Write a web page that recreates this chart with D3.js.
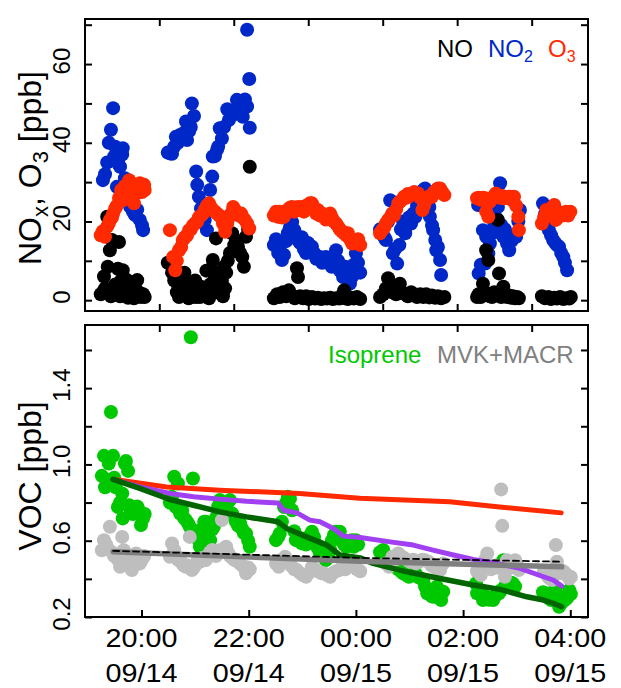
<!DOCTYPE html>
<html>
<head>
<meta charset="utf-8">
<script src="https://cdn.jsdelivr.net/npm/d3@7"></script>
<style>
  body { margin: 0; background: #fff; }
  svg { display: block; }
  text { font-family: "Liberation Sans", Arial, Helvetica, sans-serif; }
</style>
</head>
<body>
<svg id="chart" width="621" height="688"></svg>
<script>
// ---- time axis (decimal hours since 00:00 on 09/14) ----
const hourTicks = [20, 22, 24, 26, 28];
const hourTickTime = ["20:00", "22:00", "00:00", "02:00", "04:00"];
const hourTickDate = ["09/14", "09/14", "09/15", "09/15", "09/15"];
const upperTickHours = [20.332, 21.721, 23.111, 24.500, 25.889, 27.279];

// ---- NOx / O3 panel ----
const noxTicks = [0, 10, 20, 30, 40, 50, 60, 70];
const noxLabels = [0, 20, 40, 60];

// NO2 [hour, ppb]
const no2 = [
  [19.28,30.5],[19.32,32],[19.36,35],[19.39,40],[19.43,43.3],[19.47,48.8],[19.49,36.5],[19.51,39],[19.54,28.8],[19.56,34.8],[19.60,33.9],[19.64,37],[19.65,38.6],[19.69,31],[19.73,27],[19.77,25],[19.79,23.7],[19.84,22.5],[19.88,21.6],[19.92,23],[19.97,20.4],[20.01,19],[20.03,17.8],
  [20.49,37.5],[20.53,37.3],[20.57,37.2],[20.61,39],[20.64,41.5],[20.68,40],[20.72,42],[20.76,41],[20.79,42.5],[20.83,45.4],[20.85,40.7],[20.89,43],[20.92,44],[20.94,50],[20.98,46.8],[21.02,32.7],[21.04,29.3],[21.07,26.3],[21.11,23.3],[21.15,21],[21.18,20.4],[21.22,17.8],[21.24,24],[21.28,28],[21.32,31.4],[21.33,36.5],[21.37,36.6],[21.41,38.2],[21.43,39],[21.46,43.7],[21.50,41.1],[21.54,44],[21.60,48.5],[21.63,45.8],[21.69,47],[21.74,48],[21.78,50.9],[21.84,48],[21.89,46.6],[21.93,51],[21.97,49.2],[21.97,68.7],[22.01,56.2],[22.02,43.8],
  [22.47,14],[22.51,15.5],[22.55,12],[22.58,13.6],[22.62,10.2],[22.66,11.5],[22.70,15],[22.73,17],[22.77,18.5],[22.81,19.8],[22.85,17.8],[22.88,16.5],[22.92,15.3],[22.96,14.5],[22.99,16],[23.03,13],[23.07,12],[23.11,14.5],[23.14,13],[23.18,13.6],[23.22,12],[23.26,10.5],[23.29,11],[23.33,11],[23.37,9.5],[23.40,10.5],[23.44,11],[23.48,9.5],[23.52,10.2],[23.55,8.5],[23.59,11],[23.63,12.7],[23.67,10],[23.70,7.5],[23.74,8.5],[23.76,5.9],[23.80,8.5],[23.84,7],[23.87,5.5],[23.89,4.2],[23.93,6],[23.96,9],[24.00,11.9],[24.04,9.5],[24.08,7],
  [24.45,18],[24.49,17],[24.53,16],[24.56,15.3],[24.60,20],[24.64,25.4],[24.68,22],[24.69,11.9],[24.73,13],[24.77,9.3],[24.81,14],[24.84,18],[24.88,20],[24.92,17],[24.96,19.5],[24.99,21],[25.03,19.5],[25.07,22],[25.11,21.2],[25.14,24],[25.18,26],[25.22,27.5],[25.26,28],[25.29,28.4],[25.33,25],[25.37,23.7],[25.38,21.2],[25.42,19],[25.44,17.8],[25.48,15.3],[25.50,12.7],[25.53,13.5],[25.57,10.2],[25.59,6.4],
  [26.28,24.2],[26.29,6.8],[26.33,9],[26.37,17.8],[26.41,9.3],[26.43,16.1],[26.47,11.9],[26.50,14.4],[26.54,17],[26.58,19],[26.61,21],[26.65,23.7],[26.69,29.7],[26.71,19.1],[26.75,16.1],[26.78,18],[26.82,14.4],[26.86,12.7],[26.90,15],[26.93,16.1],[26.99,16.1],[27.03,20],[27.06,22.9],
  [27.49,24.6],[27.53,22],[27.57,20],[27.60,17.8],[27.64,16.5],[27.68,15.3],[27.72,14.5],[27.75,14],[27.79,13.6],[27.83,12],[27.87,11],[27.90,9.5],[27.94,7.6]
];

// NO [hour, ppb]
const no = [
  [19.24,1.5],[19.28,2.1],[19.30,6],[19.32,3],[19.36,21.2],[19.37,8.5],[19.41,12.7],[19.43,1],[19.45,15.3],[19.47,2.5],[19.51,4],[19.54,3],[19.56,8],[19.58,14.8],[19.60,1],[19.62,5],[19.65,7.6],[19.67,1.2],[19.69,3.5],[19.73,5.1],[19.75,0.6],[19.77,2.5],[19.80,1.5],[19.82,4.5],[19.84,3],[19.86,0.5],[19.88,4],[19.92,5.1],[19.95,2],[19.99,0.8],[20.03,1.5],[20.06,0.8],
  [20.49,9.5],[20.53,9.3],[20.57,7],[20.61,5],[20.64,6],[20.66,2],[20.68,4],[20.70,0.8],[20.72,5.1],[20.76,3],[20.79,2.5],[20.80,7],[20.83,1.5],[20.87,4.2],[20.88,0.5],[20.90,3],[20.94,0.8],[20.98,2],[21.00,5],[21.02,0.8],[21.05,1.5],[21.09,0.8],[21.10,3.5],[21.13,2],[21.17,1],[21.20,3],[21.21,7.5],[21.24,1.5],[21.26,0.5],[21.28,4],[21.30,8],[21.32,3.4],[21.33,10.2],[21.37,6],[21.39,15.7],[21.40,2],[21.43,6.8],[21.46,2.5],[21.50,5],[21.52,1],[21.54,8.5],[21.56,3],[21.58,7],[21.61,10],[21.65,12],[21.69,17],[21.73,14],[21.76,15.3],[21.80,13.6],[21.84,12],[21.88,11],[21.91,8.5],[21.95,16.1],[21.99,18],[22.02,33.9],
  [22.47,0.5],[22.53,1.5],[22.58,0.8],[22.64,2],[22.70,1],[22.75,2.5],[22.81,1.2],[22.86,0.5],[22.90,8.1],[22.92,5.9],[22.96,1],[23.01,0.5],[23.07,1],[23.12,0.3],[23.18,0.8],[23.24,0.4],[23.29,0.6],[23.35,0.3],[23.40,0.5],[23.46,0.4],[23.52,0.6],[23.57,0.3],[23.63,0.5],[23.69,0.4],[23.74,1.2],[23.78,2.5],[23.80,0.5],[23.85,0.3],[23.91,0.6],[23.96,0.4],[24.02,0.8],[24.08,0.3],
  [24.45,0.8],[24.51,1.5],[24.56,3],[24.60,5.6],[24.64,4.2],[24.68,2],[24.71,3.5],[24.75,1.5],[24.79,2.5],[24.82,4.2],[24.86,2],[24.92,1.5],[24.97,1],[25.03,2],[25.09,1.2],[25.14,0.8],[25.20,1.5],[25.26,0.8],[25.31,1.5],[25.37,0.7],[25.42,1.2],[25.48,0.6],[25.53,1],[25.59,0.5],[25.65,0.8],
  [26.26,0.8],[26.29,1.5],[26.33,0.8],[26.37,4.2],[26.41,2],[26.43,12.7],[26.47,10.2],[26.50,1],[26.54,0.8],[26.58,2],[26.61,1.2],[26.65,20.4],[26.67,6.8],[26.71,0.8],[26.75,3.4],[26.78,1.5],[26.82,0.8],[26.86,1.2],[26.90,0.6],[26.93,1],[26.97,0.5],[27.01,0.8],[27.04,0.5],
  [27.47,1],[27.53,0.5],[27.59,0.8],[27.64,0.3],[27.70,0.6],[27.75,0.4],[27.81,0.8],[27.87,0.3],[27.92,0.5],[27.98,0.4],[28.01,0.8]
];

// O3 [hour, ppb]
const o3 = [
  [19.24,16.5],[19.28,17.5],[19.32,16.1],[19.36,18.7],[19.39,19.5],[19.41,20.4],[19.45,21],[19.47,22],[19.51,23.3],[19.54,24],[19.58,26],[19.62,28],[19.65,25.4],[19.69,29],[19.73,27],[19.77,30.5],[19.80,28.8],[19.84,29],[19.86,24.6],[19.90,27.1],[19.93,28],[19.97,29.7],[20.01,27.5],[20.05,29.3],[20.06,28],
  [20.53,17.8],[20.59,11],[20.63,7.6],[20.66,10],[20.70,12.7],[20.74,13.5],[20.77,15.3],[20.81,16],[20.85,16.5],[20.89,17.8],[20.92,18],[20.96,19],[21.00,19.5],[21.04,20],[21.07,21],[21.11,21.5],[21.15,22],[21.18,23],[21.22,24],[21.26,24.6],[21.30,23.5],[21.33,22.9],[21.37,22.5],[21.41,22],[21.45,21.5],[21.48,21.2],[21.52,19.5],[21.56,17.4],[21.60,19.5],[21.63,21],[21.67,22],[21.71,23.7],[21.74,23],[21.78,22],[21.82,21.5],[21.86,22],[21.89,21],[21.93,20.4],[21.97,19.5],[22.01,18.2],
  [22.47,21.5],[22.51,22.5],[22.55,21.2],[22.58,22.5],[22.62,21],[22.66,21.2],[22.70,22.5],[22.73,23],[22.77,23.5],[22.81,23.7],[22.85,22.5],[22.88,23],[22.92,23.7],[22.96,23],[22.99,23.7],[23.03,22.5],[23.07,24],[23.11,23.5],[23.14,24.6],[23.18,24.6],[23.22,23.5],[23.26,22],[23.29,22.9],[23.33,21.5],[23.37,22],[23.40,21.2],[23.44,20.5],[23.48,21.5],[23.52,22],[23.55,21],[23.59,20],[23.63,19.5],[23.67,18.7],[23.70,18],[23.74,17.5],[23.78,17],[23.82,16.5],[23.85,17],[23.89,15.5],[23.93,14.4],[23.96,15],[24.00,14.5],[24.04,15.5],[24.08,14],
  [24.45,17],[24.49,17.8],[24.53,18.5],[24.56,19.5],[24.60,20.4],[24.64,21],[24.68,22],[24.71,21.5],[24.75,23],[24.79,24.6],[24.82,25],[24.86,25.5],[24.90,26.3],[24.94,26],[24.97,27],[25.01,26.5],[25.05,27.1],[25.09,27.5],[25.12,27],[25.16,27.1],[25.20,26],[25.24,22.9],[25.27,24],[25.31,25.4],[25.35,26],[25.38,26.5],[25.42,26.3],[25.46,27.5],[25.50,28],[25.53,28.4],[25.57,28.4],[25.61,27.5],[25.65,26.7],
  [26.26,25.9],[26.29,26],[26.33,25.5],[26.37,26],[26.41,25.9],[26.43,22.5],[26.47,21.2],[26.50,25],[26.54,26],[26.58,26.5],[26.61,27.1],[26.65,26.5],[26.69,26],[26.73,26.5],[26.76,25.9],[26.80,26],[26.84,26.3],[26.88,26.3],[26.91,25.5],[26.95,26.3],[26.99,24],[27.03,21.2],[27.04,17.8],
  [27.47,19.5],[27.51,21],[27.55,22.9],[27.59,23],[27.62,22],[27.66,23.5],[27.70,24.2],[27.73,20.4],[27.77,22.5],[27.81,22],[27.85,21.5],[27.88,22],[27.92,22.5],[27.96,21.5],[28.00,22.5]
];

// ---- VOC panel ----
const vocTicks = [0.2, 0.4, 0.6, 0.8, 1.0, 1.2, 1.4, 1.6];
const vocLabels = [0.2, 0.6, 1.0, 1.4];

// Isoprene [hour, ppb]
const isoprene = [
  [19.26,0.94],[19.30,1.045],[19.32,0.88],[19.36,0.92],[19.39,1.005],[19.43,1.275],[19.47,1.045],[19.49,0.93],[19.52,0.88],[19.56,0.777],[19.60,0.80],[19.64,0.848],[19.65,0.717],[19.69,1.005],[19.71,1.018],[19.75,0.966],[19.77,0.786],[19.80,0.76],[19.84,0.74],[19.88,0.76],[19.92,0.78],[19.95,0.76],[19.99,0.682],[20.03,0.717],[20.06,0.74],
  [20.53,0.80],[20.57,0.83],[20.61,0.935],[20.64,0.777],[20.68,0.90],[20.72,0.743],[20.76,0.76],[20.79,0.72],[20.83,0.708],[20.87,0.69],[20.90,0.673],[20.92,1.667],[20.96,0.926],[21.00,0.65],[21.04,0.62],[21.07,0.60],[21.09,0.568],[21.13,0.66],[21.17,0.70],[21.20,0.699],[21.24,0.64],[21.28,0.603],[21.32,0.66],[21.35,0.673],[21.39,0.72],[21.43,0.78],[21.46,0.813],[21.50,0.76],[21.54,0.743],[21.58,0.79],[21.61,0.80],[21.65,0.813],[21.69,0.743],[21.73,0.72],[21.76,0.70],[21.80,0.68],[21.84,0.69],[21.88,0.66],[21.91,0.64],[21.95,0.638],[21.99,0.60],[22.02,0.568],
  [22.51,0.603],[22.55,0.62],[22.58,0.638],[22.62,0.70],[22.66,0.777],[22.70,0.80],[22.73,0.83],[22.77,0.82],[22.81,0.76],[22.85,0.65],[22.88,0.603],[22.92,0.62],[22.96,0.60],[22.99,0.586],[23.03,0.60],[23.07,0.58],[23.11,0.62],[23.14,0.603],[23.18,0.647],[23.22,0.62],[23.26,0.58],[23.29,0.56],[23.33,0.533],[23.37,0.55],[23.40,0.52],[23.44,0.498],[23.48,0.52],[23.52,0.55],[23.55,0.60],[23.59,0.63],[23.63,0.647],[23.67,0.62],[23.70,0.647],[23.74,0.60],[23.78,0.58],[23.82,0.568],[23.85,0.59],[23.89,0.60],[23.93,0.603],[23.96,0.568],[24.00,0.603],[24.04,0.58],
  [24.45,0.54],[24.51,0.551],[24.56,0.52],[24.62,0.498],[24.68,0.48],[24.73,0.463],[24.79,0.45],[24.84,0.44],[24.88,0.429],[24.94,0.42],[24.99,0.411],[25.05,0.42],[25.11,0.429],[25.16,0.41],[25.22,0.40],[25.26,0.394],[25.29,0.36],[25.33,0.324],[25.37,0.33],[25.41,0.31],[25.44,0.306],[25.48,0.34],[25.51,0.359],[25.55,0.30],[25.59,0.289],[25.63,0.333],
  [26.24,0.376],[26.26,0.324],[26.29,0.429],[26.33,0.34],[26.37,0.289],[26.41,0.31],[26.45,0.30],[26.48,0.29],[26.52,0.30],[26.56,0.289],[26.60,0.31],[26.63,0.32],[26.67,0.324],[26.71,0.34],[26.75,0.498],[26.78,0.36],[26.82,0.359],[26.86,0.37],[26.90,0.38],[26.93,0.376],[26.97,0.36],
  [27.49,0.33],[27.53,0.324],[27.57,0.31],[27.60,0.30],[27.64,0.289],[27.68,0.30],[27.72,0.35],[27.75,0.32],[27.79,0.254],[27.83,0.27],[27.87,0.29],[27.90,0.289],[27.94,0.30],[27.98,0.341],[28.01,0.32]
];

// MVK+MACR [hour, ppb]
const mvkMacr = [
  [19.26,0.55],[19.30,0.603],[19.34,0.58],[19.37,0.56],[19.41,0.673],[19.45,0.54],[19.49,0.52],[19.52,0.525],[19.56,0.50],[19.60,0.463],[19.64,0.62],[19.67,0.55],[19.71,0.50],[19.75,0.48],[19.79,0.498],[19.82,0.446],[19.86,0.47],[19.90,0.533],[19.93,0.50],[19.97,0.481],[20.01,0.50],[20.05,0.52],
  [20.53,0.516],[20.57,0.586],[20.61,0.55],[20.64,0.52],[20.68,0.50],[20.72,0.498],[20.76,0.48],[20.79,0.47],[20.83,0.463],[20.87,0.47],[20.90,0.62],[20.94,0.446],[20.98,0.46],[21.02,0.48],[21.05,0.50],[21.09,0.49],[21.13,0.51],[21.17,0.50],[21.20,0.498],[21.24,0.52],[21.28,0.54],[21.32,0.551],[21.35,0.53],[21.39,0.52],[21.43,0.54],[21.46,0.55],[21.50,0.708],[21.54,0.56],[21.58,0.568],[21.61,0.54],[21.65,0.52],[21.69,0.51],[21.73,0.50],[21.76,0.498],[21.80,0.49],[21.84,0.48],[21.88,0.47],[21.91,0.463],[21.95,0.429],[21.99,0.46],[22.02,0.45],
  [22.51,0.48],[22.56,0.463],[22.62,0.50],[22.68,0.516],[22.73,0.49],[22.79,0.47],[22.85,0.45],[22.90,0.446],[22.96,0.43],[23.01,0.42],[23.07,0.411],[23.12,0.43],[23.18,0.463],[23.24,0.45],[23.29,0.44],[23.35,0.43],[23.40,0.429],[23.46,0.42],[23.52,0.411],[23.57,0.43],[23.63,0.44],[23.69,0.446],[23.74,0.46],[23.80,0.45],[23.85,0.463],[23.91,0.47],[23.96,0.463],[24.02,0.45],[24.08,0.44],
  [24.56,0.48],[24.62,0.463],[24.68,0.516],[24.73,0.50],[24.79,0.533],[24.84,0.52],[24.90,0.51],[24.96,0.498],[25.01,0.49],[25.07,0.50],[25.12,0.481],[25.18,0.49],[25.24,0.50],[25.29,0.498],[25.35,0.49],[25.41,0.47],[25.46,0.463],[25.51,0.455],[25.57,0.446],[25.63,0.481],
  [26.26,0.44],[26.29,0.463],[26.33,0.42],[26.37,0.48],[26.41,0.50],[26.45,0.533],[26.48,0.47],[26.52,0.45],[26.56,0.46],[26.60,0.47],[26.63,0.46],[26.67,0.463],[26.71,0.869],[26.73,0.678],[26.75,0.45],[26.78,0.411],[26.82,0.498],[26.86,0.47],[26.90,0.46],[26.93,0.48],[26.97,0.498],[27.01,0.47],[27.04,0.446],
  [27.51,0.44],[27.55,0.429],[27.59,0.41],[27.62,0.40],[27.66,0.394],[27.70,0.42],[27.73,0.577],[27.75,0.49],[27.79,0.45],[27.83,0.43],[27.87,0.44],[27.90,0.429],[27.94,0.42],[27.98,0.402],[28.01,0.41]
];

// Trend curves [hour, ppb]
const curveRed = [[19.47,0.922],[20.47,0.882],[21.46,0.865],[22.95,0.848],[24.07,0.823],[25.75,0.804],[26.68,0.777],[27.83,0.746]];
const curvePurple = [[19.47,0.922],[19.97,0.882],[20.53,0.848],[20.97,0.83],[21.46,0.818],[21.96,0.807],[22.55,0.798],[22.65,0.76],[22.90,0.746],[23.14,0.708],[23.33,0.699],[23.58,0.664],[23.77,0.624],[24.08,0.617],[24.64,0.594],[25.07,0.577],[25.44,0.551],[25.82,0.525],[26.19,0.502],[26.63,0.481],[27.06,0.455],[27.50,0.411],[27.68,0.394],[27.84,0.362]];
const curveDarkGreen = [[19.47,0.922],[19.97,0.874],[20.53,0.816],[20.97,0.786],[21.46,0.751],[21.96,0.725],[22.55,0.699],[22.71,0.664],[23.08,0.62],[23.46,0.577],[23.70,0.525],[24.08,0.51],[24.32,0.481],[24.95,0.437],[25.57,0.402],[26.19,0.368],[26.69,0.345],[27.19,0.306],[27.50,0.289],[27.68,0.272],[27.84,0.254]];
const curveGray = [[19.47,0.542],[24.08,0.492],[27.84,0.463]];
const curveDashed = [[19.47,0.547],[24.08,0.51],[27.84,0.49]];

// ---- drawing ----
const svg = d3.select("#chart");
const left = 85, right = 588;
const top1 = 19, bot1 = 311, top2 = 325, bot2 = 617;
const tickLen = 7;

const x = d3.scaleLinear().domain([18.946, 28.33]).range([left, right]);
const yNox = d3.scaleLinear().domain([-2.75, 71.45]).range([bot1, top1]);
const yVoc = d3.scaleLinear().domain([0.2, 1.731]).range([bot2, top2]);

const COL = {
  no: "#000000", no2: "#0028c8", o3: "#ff2a00",
  iso: "#00c800", mvk: "#bebebe", mvkText: "#808080",
  purple: "#a040f0", dgreen: "#006400", grayLine: "#7f7f7f"
};
const R = 7;

function dots(g, data, yScale, color) {
  g.append("g").selectAll("circle").data(data).join("circle")
    .attr("cx", d => x(d[0])).attr("cy", d => yScale(d[1]))
    .attr("r", R).attr("fill", color);
}

// upper panel points
const gTop = svg.append("g");
dots(gTop, no2, yNox, COL.no2);
dots(gTop, no, yNox, COL.no);
dots(gTop, o3, yNox, COL.o3);

// lower panel points
const gBot = svg.append("g");
dots(gBot, isoprene, yVoc, COL.iso);
dots(gBot, mvkMacr, yVoc, COL.mvk);

// trend curves
const line = d3.line().x(d => x(d[0])).y(d => yVoc(d[1]));
function curve(data, color, w, dash) {
  gBot.append("path").datum(data).attr("d", line)
    .attr("fill", "none").attr("stroke", color).attr("stroke-width", w)
    .attr("stroke-linejoin", "round").attr("stroke-linecap", "round")
    .attr("stroke-dasharray", dash || null);
}
curve(curveRed, COL.o3, 5);
curve(curvePurple, COL.purple, 5);
curve(curveDarkGreen, COL.dgreen, 5.5);
curve(curveGray, COL.grayLine, 5.5);
curve(curveDashed, "#000", 1.8, "6,4");

// frames and inward ticks
function styleAxis(g) {
  g.select(".domain").remove();
  g.selectAll(".tick line").attr("stroke", "#000").attr("stroke-width", 2);
  g.selectAll(".tick text").remove();
}
function frame(y0, y1, yScale, yTicks, bottomTicks) {
  svg.append("rect").attr("x", left).attr("y", y0)
    .attr("width", right - left).attr("height", y1 - y0)
    .attr("fill", "none").attr("stroke", "#000").attr("stroke-width", 2);
  svg.append("g").attr("transform", `translate(${left},0)`)
    .call(d3.axisLeft(yScale).tickValues(yTicks).tickSize(-tickLen)).call(styleAxis);
  svg.append("g").attr("transform", `translate(${right},0)`)
    .call(d3.axisRight(yScale).tickValues(yTicks).tickSize(-tickLen)).call(styleAxis);
  svg.append("g").attr("transform", `translate(0,${y0})`)
    .call(d3.axisTop(x).tickValues(upperTickHours).tickSize(-tickLen)).call(styleAxis);
  svg.append("g").attr("transform", `translate(0,${y1})`)
    .call(d3.axisBottom(x).tickValues(bottomTicks).tickSize(-tickLen)).call(styleAxis);
}
frame(top1, bot1, yNox, noxTicks, upperTickHours);
frame(top2, bot2, yVoc, vocTicks, hourTicks);

// y tick labels (rotated)
function yLabels(vals, yScale, fmt) {
  svg.append("g").selectAll("text").data(vals).join("text")
    .attr("transform", d => `translate(70,${yScale(d)}) rotate(-90)`)
    .attr("dx", 3)
    .attr("text-anchor", "middle").attr("font-size", 24).attr("fill", "#000")
    .text(fmt);
}
yLabels(noxLabels, yNox, d => d3.format("d")(d));
yLabels(vocLabels, yVoc, d => d3.format(".1f")(d));

// x tick labels
const xl = svg.append("g").selectAll("g").data(hourTicks).join("g")
  .attr("transform", d => `translate(${x(d)},0)`);
xl.append("text").attr("y", 646.5).attr("text-anchor", "middle")
  .attr("font-size", 26).attr("textLength", 72).attr("lengthAdjust", "spacingAndGlyphs")
  .text((d, i) => hourTickTime[i]);
xl.append("text").attr("y", 681.5).attr("text-anchor", "middle")
  .attr("font-size", 26).attr("textLength", 72).attr("lengthAdjust", "spacingAndGlyphs")
  .text((d, i) => hourTickDate[i]);

// axis titles
const t1 = svg.append("text").attr("transform", "translate(41,168) rotate(-90)")
  .attr("text-anchor", "middle").attr("font-size", 32);
t1.append("tspan").text("NO");
t1.append("tspan").attr("dy", 7).attr("font-size", 22).text("x");
t1.append("tspan").attr("dy", -7).text(", O");
t1.append("tspan").attr("dy", 7).attr("font-size", 22).text("3");
t1.append("tspan").attr("dy", -7).text(" [ppb]");

svg.append("text").attr("transform", "translate(41,476) rotate(-90)")
  .attr("text-anchor", "middle").attr("font-size", 32).text("VOC [ppb]");

// legends
const lg1 = svg.append("text").attr("x", 437).attr("y", 57).attr("font-size", 24);
lg1.append("tspan").attr("fill", COL.no).text("NO");
lg1.append("tspan").attr("x", 488).attr("fill", COL.no2).text("NO");
lg1.append("tspan").attr("dy", 5).attr("font-size", 16).attr("fill", COL.no2).text("2");
lg1.append("tspan").attr("x", 548).attr("dy", -5).attr("fill", COL.o3).text("O");
lg1.append("tspan").attr("dy", 5).attr("font-size", 16).attr("fill", COL.o3).text("3");

svg.append("text").attr("x", 328).attr("y", 362.5).attr("font-size", 24)
  .attr("fill", COL.iso).text("Isoprene");
svg.append("text").attr("x", 437).attr("y", 362.5).attr("font-size", 24)
  .attr("fill", COL.mvkText).text("MVK+MACR");
</script>
</body>
</html>
